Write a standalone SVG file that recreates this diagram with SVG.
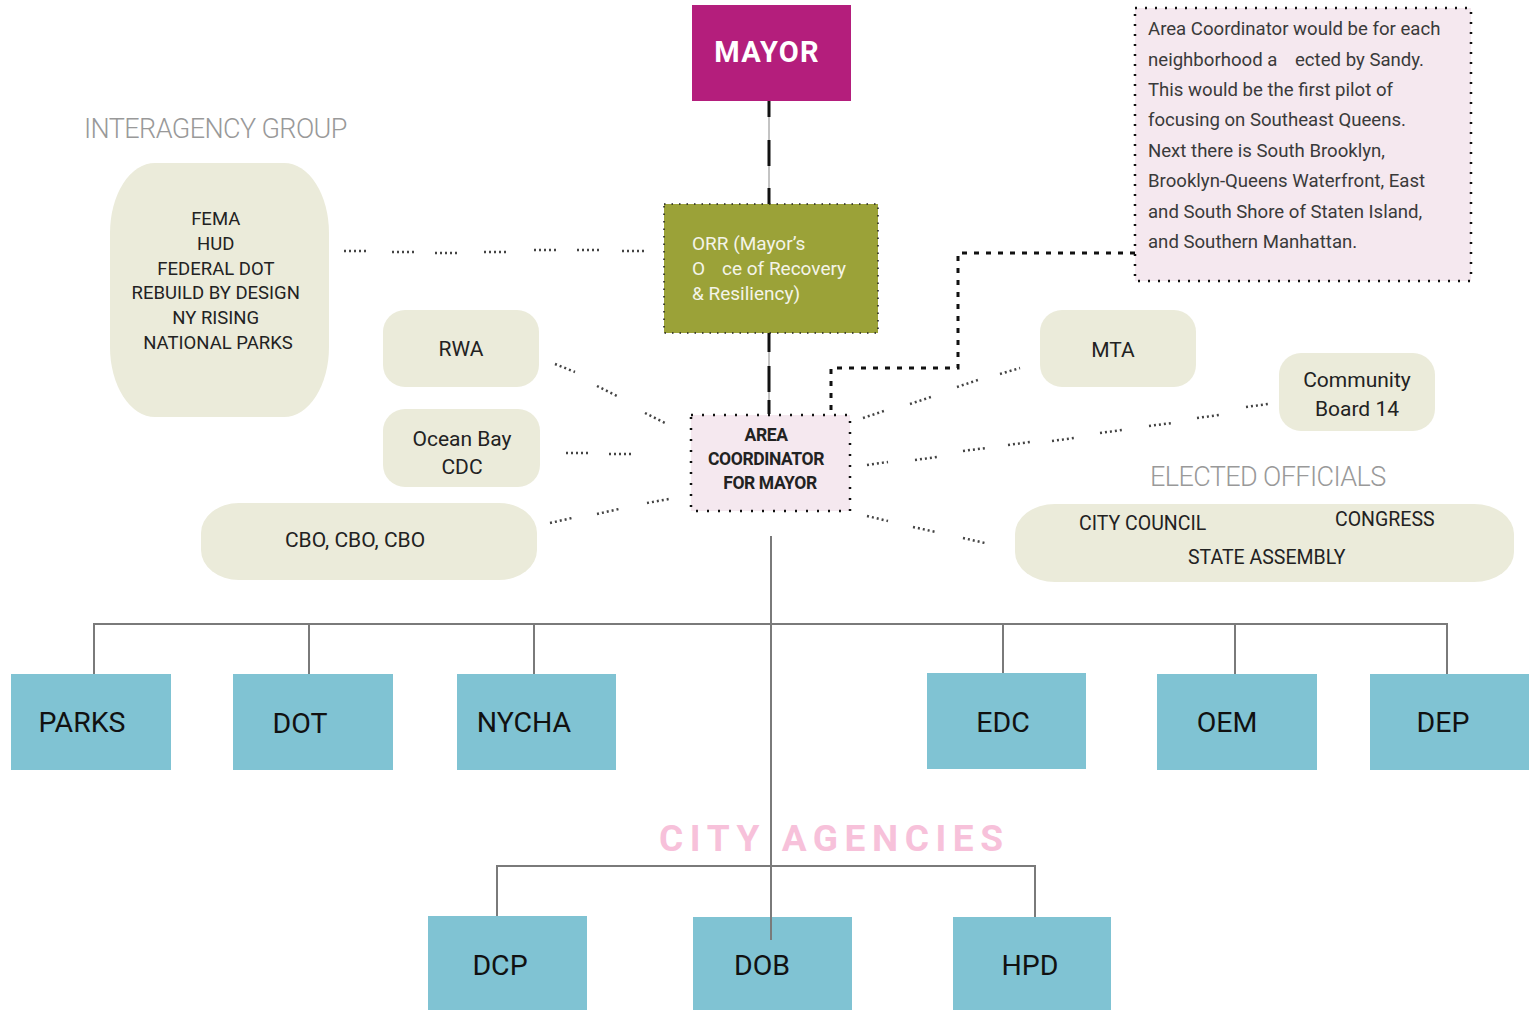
<svg xmlns="http://www.w3.org/2000/svg" width="1531" height="1011" viewBox="0 0 1531 1011">
  <style>
    .t { font-family: Roboto, "Liberation Sans", sans-serif; }
    .pill { fill: #ebebda; }
    .pill-t { font-family: Roboto, "Liberation Sans", sans-serif; font-size: 21px; fill: #222; text-anchor: middle; }
    .group-t { font-family: Roboto, "Liberation Sans", sans-serif; font-size: 18.5px; fill: #222; text-anchor: middle; }
    .head { font-family: Roboto, "Liberation Sans", sans-serif; font-size: 27px; font-weight: 300; fill: #999; letter-spacing: -0.6px; }
    .agency { fill: #80c3d3; }
    .agency-t { font-family: Roboto, "Liberation Sans", sans-serif; font-size: 28.5px; fill: #111; text-anchor: middle; }
    .dots { fill: none; stroke: #444; stroke-width: 2.5; stroke-dasharray: 2 3; }
    .tree { fill: none; stroke: #7a7a7a; stroke-width: 2; }
    .note-t { font-family: Roboto, "Liberation Sans", sans-serif; font-size: 18.6px; fill: #3a3a3a; }
  </style>

  <!-- connectors -->
  <g id="connectors">
    <!-- mayor / ORR / area coordinator spine -->
    <line x1="769" y1="101" x2="769" y2="205" stroke="#888" stroke-width="1"/>
    <path d="M769 101V117M769 140V166M769 188V205" stroke="#111" stroke-width="3"/>
    <line x1="769" y1="333" x2="769" y2="414" stroke="#888" stroke-width="1"/>
    <path d="M769 333V352M769 366V392M769 400V414" stroke="#111" stroke-width="3"/>

    <!-- note to area coordinator -->
    <path d="M1135 253H958V368H831V414" fill="none" stroke="#111" stroke-width="3" stroke-dasharray="5 7"/>

    <!-- interagency group to ORR -->
    <path class="dots" d="M344 251H366M392 252H414M435 253H457M484 252H506M534 250H556M577 250H599M622 251H644"/>

    <!-- left partners -->
    <path class="dots" d="M555 364L575 372M597 386L617 396M645 413L665 423"/>
    <path class="dots" d="M566 453H588M609 454H631"/>
    <path class="dots" d="M550 523L572 518M597 514L619 509M647 503L669 499"/>

    <!-- right partners -->
    <path class="dots" d="M863 418L884 411M910 404L931 397M957 387L978 380M1000 374L1020 368"/>
    <path class="dots" d="M867 465L888 462M915 460L937 457M963 451L986 448M1008 445L1030 442M1052 441L1074 438M1100 433L1122 430M1149 426L1172 423M1197 418L1219 415M1246 407L1268 404"/>
    <path class="dots" d="M867 516L888 521M913 527L936 532M963 538L985 543"/>

    <!-- city agencies tree -->
    <path class="tree" d="M771 536V624M94 674V624H1447V674M309 624V674M534 624V674M1003 624V673M1235 624V674"/>
    <path class="tree" d="M497 917V866H1035V917"/>
  </g>

  <!-- mayor -->
  <g id="mayor">
    <rect x="692" y="5" width="159" height="96" fill="#b41e7c"/>
    <text x="767" y="62" class="t" font-size="29" font-weight="700" fill="#fff" text-anchor="middle" letter-spacing="1.2">MAYOR</text>
  </g>

  <!-- office of recovery & resiliency -->
  <g id="orr">
    <rect x="664" y="204" width="214" height="129" fill="#9ba238" stroke="#222" stroke-width="1.5" stroke-dasharray="1.5 6"/>
    <text class="t" font-size="19" fill="#f4f4e8">
      <tspan x="692" y="250">ORR (Mayor’s</tspan>
      <tspan x="692" y="275">O</tspan>
      <tspan x="722" y="275">ce of Recovery</tspan>
      <tspan x="692" y="300">&amp; Resiliency)</tspan>
    </text>
  </g>

  <!-- area coordinator -->
  <g id="area-coordinator">
    <rect x="691" y="415" width="159" height="96" fill="#f5e8ef" stroke="#111" stroke-width="2.5" stroke-dasharray="2 9"/>
    <text class="t" font-size="17.5" font-weight="700" fill="#222" text-anchor="middle" letter-spacing="-0.4">
      <tspan x="768" y="441">AREA</tspan>
      <tspan x="768" y="465">COORDINATOR</tspan>
      <tspan x="770" y="489">FOR MAYOR</tspan>
    </text>
  </g>

  <!-- note -->
  <g id="note">
    <rect x="1135" y="8" width="336" height="273" fill="#f5e8ef" stroke="#111" stroke-width="2.5" stroke-dasharray="2 8"/>
    <text class="note-t">
      <tspan x="1148" y="35">Area Coordinator would be for each</tspan>
      <tspan x="1148" y="66">neighborhood a</tspan>
      <tspan x="1295" y="66">ected by Sandy.</tspan>
      <tspan x="1148" y="96">This would be the first pilot of</tspan>
      <tspan x="1148" y="126">focusing on Southeast Queens.</tspan>
      <tspan x="1148" y="157">Next there is South Brooklyn,</tspan>
      <tspan x="1148" y="187">Brooklyn-Queens Waterfront, East</tspan>
      <tspan x="1148" y="218">and South Shore of Staten Island,</tspan>
      <tspan x="1148" y="248">and Southern Manhattan.</tspan>
    </text>
  </g>

  <!-- interagency group -->
  <g id="interagency-group">
    <text class="head" x="84" y="138">INTERAGENCY GROUP</text>
    <rect class="pill" x="110" y="163" width="219" height="254" rx="45" ry="70"/>
    <text class="group-t">
      <tspan x="218" y="225">FEMA</tspan>
      <tspan x="218" y="250">HUD</tspan>
      <tspan x="218" y="275">FEDERAL DOT</tspan>
      <tspan x="218" y="299">REBUILD BY DESIGN</tspan>
      <tspan x="218" y="324">NY RISING</tspan>
      <tspan x="218" y="349">NATIONAL PARKS</tspan>
    </text>
  </g>

  <g id="rwa">
    <rect class="pill" x="383" y="310" width="156" height="77" rx="22"/>
    <text class="pill-t" x="461" y="356">RWA</text>
  </g>

  <g id="ocean-bay-cdc">
    <rect class="pill" x="383" y="409" width="157" height="78" rx="22"/>
    <text class="pill-t"><tspan x="462" y="446">Ocean Bay</tspan><tspan x="462" y="474">CDC</tspan></text>
  </g>

  <g id="cbo">
    <rect class="pill" x="201" y="503" width="336" height="77" rx="38" ry="30"/>
    <text class="pill-t" x="355" y="547" font-size="19">CBO, CBO, CBO</text>
  </g>

  <g id="mta">
    <rect class="pill" x="1040" y="310" width="156" height="77" rx="22"/>
    <text class="pill-t" x="1113" y="357">MTA</text>
  </g>

  <g id="community-board-14">
    <rect class="pill" x="1279" y="353" width="156" height="78" rx="22"/>
    <text class="pill-t"><tspan x="1357" y="387">Community</tspan><tspan x="1357" y="416">Board 14</tspan></text>
  </g>

  <g id="elected-officials">
    <text class="head" x="1150" y="486">ELECTED OFFICIALS</text>
    <rect class="pill" x="1015" y="504" width="499" height="78" rx="40" ry="30"/>
    <text class="t" font-size="19.5" fill="#222">
      <tspan x="1079" y="530">CITY COUNCIL</tspan>
      <tspan x="1335" y="526">CONGRESS</tspan>
      <tspan x="1188" y="564">STATE ASSEMBLY</tspan>
    </text>
  </g>

  <!-- city agencies -->
  <text class="t" x="659" y="851" font-size="37" font-weight="700" fill="#f7c1da" textLength="344" lengthAdjust="spacing">CITY AGENCIES</text>

  <g id="parks"><rect class="agency" x="11" y="674" width="160" height="96"/><text class="agency-t" x="82" y="732">PARKS</text></g>
  <g id="dot"><rect class="agency" x="233" y="674" width="160" height="96"/><text class="agency-t" x="300" y="733">DOT</text></g>
  <g id="nycha"><rect class="agency" x="457" y="674" width="159" height="96"/><text class="agency-t" x="524" y="732">NYCHA</text></g>
  <g id="edc"><rect class="agency" x="927" y="673" width="159" height="96"/><text class="agency-t" x="1003" y="732">EDC</text></g>
  <g id="oem"><rect class="agency" x="1157" y="674" width="160" height="96"/><text class="agency-t" x="1227" y="732">OEM</text></g>
  <g id="dep"><rect class="agency" x="1370" y="674" width="159" height="96"/><text class="agency-t" x="1443" y="732">DEP</text></g>
  <g id="dcp"><rect class="agency" x="428" y="916" width="159" height="94"/><text class="agency-t" x="500" y="975">DCP</text></g>
  <g id="dob"><rect class="agency" x="693" y="917" width="159" height="93"/><text class="agency-t" x="762" y="975">DOB</text></g>
  <g id="hpd"><rect class="agency" x="953" y="917" width="158" height="93"/><text class="agency-t" x="1030" y="975">HPD</text></g>

  <!-- trunk continues down into DOB -->
  <path class="tree" d="M771 624V940"/>
</svg>
